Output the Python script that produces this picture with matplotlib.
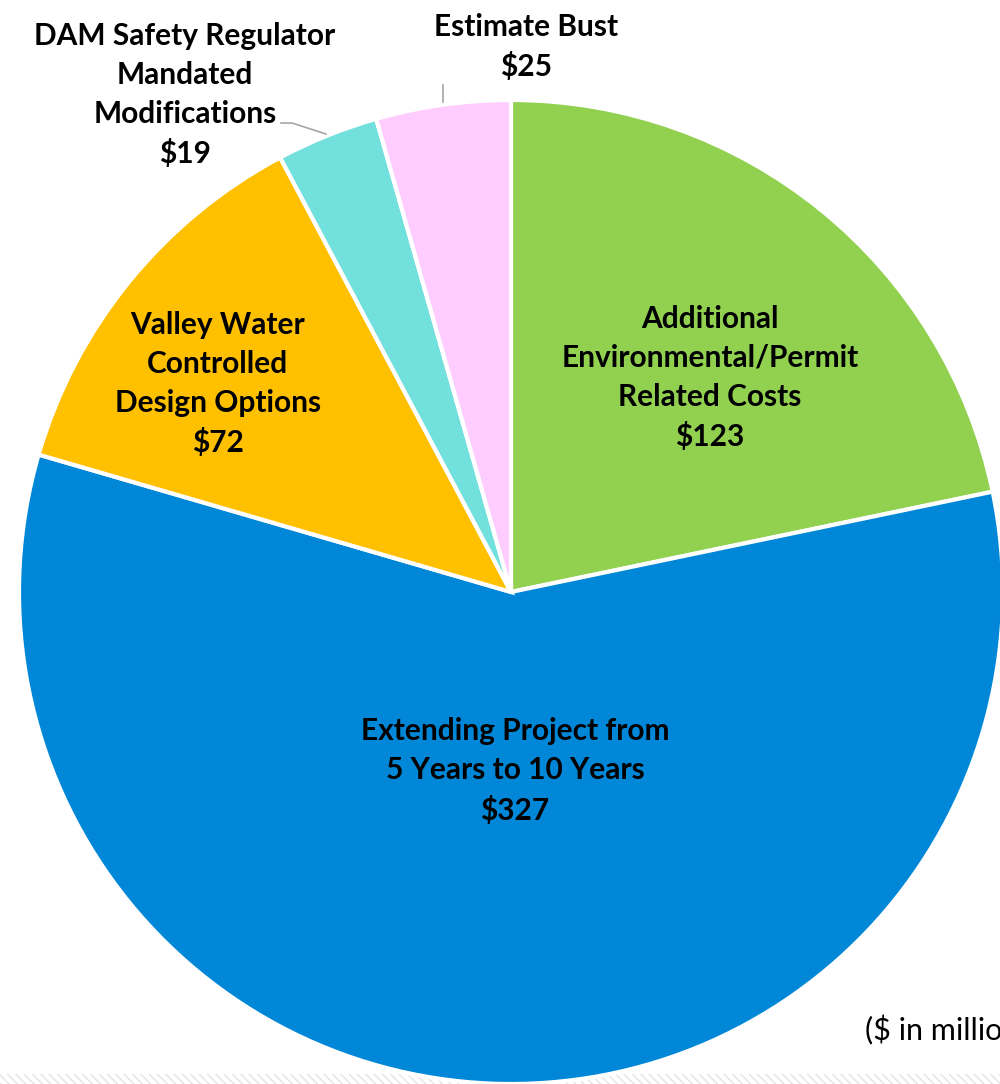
import matplotlib.pyplot as plt
from matplotlib.patches import Rectangle

# slices, clockwise from 12 o'clock ($ in millions)
labels = [
    "Additional\nEnvironmental/Permit\nRelated Costs",
    "Extending Project from\n5 Years to 10 Years",
    "Valley Water\nControlled\nDesign Options",
    "DAM Safety Regulator\nMandated\nModifications",
    "Estimate Bust",
]
values = [123, 327, 72, 19, 25]
colors = ["#92D050", "#0087D7", "#FFC000", "#72E1DD", "#FFCCFF"]

W, H = 1000, 1084
plt.rcParams['font.family'] = ['Lato', 'DejaVu Sans']

fig = plt.figure(figsize=(W / 100, H / 100), dpi=100)
ax = fig.add_axes([0, 0, 1, 1])

# faint hatched band along the bottom edge
ax.add_patch(Rectangle((0, 0), W, 10, facecolor='white', edgecolor='#e4e4e4',
                       hatch='\\\\\\\\', linewidth=0, zorder=0))

cx, cy, r = 511, H - 592, 492
wedges, _ = ax.pie(values, colors=colors, startangle=90, counterclock=False,
                   center=(cx, cy), radius=r, frame=True,
                   wedgeprops=dict(edgecolor='white', linewidth=3))
ax.set_xlim(0, W)
ax.set_ylim(0, H)
ax.set_aspect('equal')
ax.axis('off')

txt = dict(ha='center', va='center', fontsize=21.5, fontweight='bold',
           color='black', linespacing=1.47)

# label centres in pixel space (top-left origin)
pos = [(710, 378), (515, 771), (218, 384), (185, 95), (526, 47)]
for lab, v, (x, y) in zip(labels, values, pos):
    ax.text(x, H - y, f"{lab}\n${v}", **txt)

# leader lines
ax.plot([281, 292, 326], [H - 123, H - 123, H - 134], color='#a6a6a6', lw=1.2)
ax.plot([443, 443], [H - 85, H - 102], color='#a6a6a6', lw=1.2)

# cut off at the right edge, as in the source slide
ax.text(865, H - 1030, "($ in millions)", ha='left', va='center',
        fontsize=22, color='black')

fig.savefig("out.png", dpi=100)
